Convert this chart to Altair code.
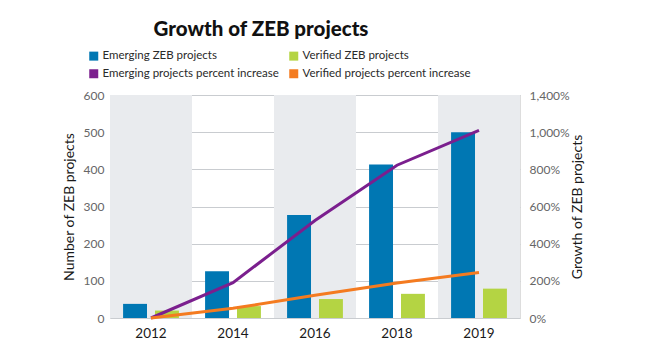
import altair as alt
import pandas as pd

years = ["2012", "2014", "2016", "2018", "2019"]
emerging = [38, 126, 277, 413, 500]
verified = [20, 32, 51, 65, 79]
emerging_pct = [0, 190, 525, 822, 1010]
verified_pct = [0, 52, 122, 188, 245]
shaded_years = ["2012", "2016", "2019"]

bar_series = ["Emerging ZEB projects", "Verified ZEB projects"]
line_series = ["Emerging projects percent increase", "Verified projects percent increase"]
# legend is filled column by column
legend_order = ["Emerging ZEB projects", "Emerging projects percent increase",
                "Verified ZEB projects", "Verified projects percent increase"]
legend_colors = ["#0077b3", "#7b1f8e", "#b4d443", "#f47b20"]
line_colors = ["#7b1f8e", "#f47b20"]

bars_df = pd.DataFrame({
    "year": years * 2,
    "series": [bar_series[0]] * 5 + [bar_series[1]] * 5,
    "count": emerging + verified,
})
lines_df = pd.DataFrame({
    "year": years * 2,
    "series": [line_series[0]] * 5 + [line_series[1]] * 5,
    "pct": emerging_pct + verified_pct,
})
shade_df = pd.DataFrame({"year": shaded_years})

FONT = "Lato"

x_enc = alt.X("year:N", sort=years, scale=alt.Scale(domain=years, paddingInner=0, paddingOuter=0),
              axis=alt.Axis(title=None, labelAngle=0, ticks=False, domain=False,
                            labelFontSize=13.5, labelColor="#1a1a1a", labelFont=FONT,
                            labelFontWeight="normal", labelPadding=8))

shade = alt.Chart(shade_df).mark_bar(color="#e9ebee").encode(x=x_enc)

bars = alt.Chart(bars_df).mark_bar().encode(
    x=x_enc,
    xOffset=alt.XOffset("series:N", sort=bar_series,
                        scale=alt.Scale(domain=bar_series, paddingInner=0.25, paddingOuter=0.41)),
    y=alt.Y("count:Q", scale=alt.Scale(domain=[0, 600]),
            axis=alt.Axis(orient="left", title="Number of ZEB projects", values=[0, 100, 200, 300, 400, 500, 600],
                          ticks=False, domain=False, grid=True, gridColor="#c9ccd0", gridWidth=1,
                          labelFontSize=12, labelColor="#666666", labelFont=FONT, labelPadding=6,
                          titleFontSize=14, titleFont=FONT, titleFontWeight="normal", titleColor="#1a1a1a",
                          titlePadding=7)),
    color=alt.Color("series:N", scale=alt.Scale(domain=legend_order, range=legend_colors),
                    legend=alt.Legend(title=None, orient="none", legendX=-22, legendY=-45, columns=2,
                                      symbolType="square", symbolSize=81, symbolStrokeWidth=0,
                                      labelFont=FONT, labelFontSize=11.5, labelFontWeight="normal",
                                      labelColor="#2a2a2a",
                                      labelOffset=3, columnPadding=9, rowPadding=5, labelLimit=400)),
)

lines = alt.Chart(lines_df).mark_line(strokeWidth=3).encode(
    x=x_enc,
    y=alt.Y("pct:Q", scale=alt.Scale(domain=[0, 1200]),
            axis=alt.Axis(orient="right", title="Growth of ZEB projects", values=[0, 200, 400, 600, 800, 1000, 1200],
                          labelExpr="datum.value == 1200 ? '1,400%' : format(datum.value, ',') + '%'",
                          ticks=False, domain=False, grid=False,
                          labelFontSize=12, labelColor="#666666", labelFont=FONT, labelPadding=9,
                          titleFontSize=14, titleFont=FONT, titleFontWeight="normal", titleColor="#1a1a1a",
                          titleAngle=-90, titlePadding=15)),
    stroke=alt.Stroke("series:N", scale=alt.Scale(domain=line_series, range=line_colors), legend=None),
    detail="series:N",
)

chart = alt.layer(shade, bars, lines).resolve_scale(y="independent").properties(
    width=410, height=223,
    padding={"left": 110, "top": 95, "right": 125, "bottom": 32},
    autosize=alt.AutoSizeParams(type="none"),
    title=alt.TitleParams("Growth of ZEB projects", font=FONT, fontSize=20.5, fontWeight=900,
                          color="#111111", anchor="middle", dx=-54, dy=-6),
).configure_view(stroke="#777777", strokeWidth=1.5).configure(background="white")

chart.save("out.html", embed_options={"renderer": "svg", "actions": False})
